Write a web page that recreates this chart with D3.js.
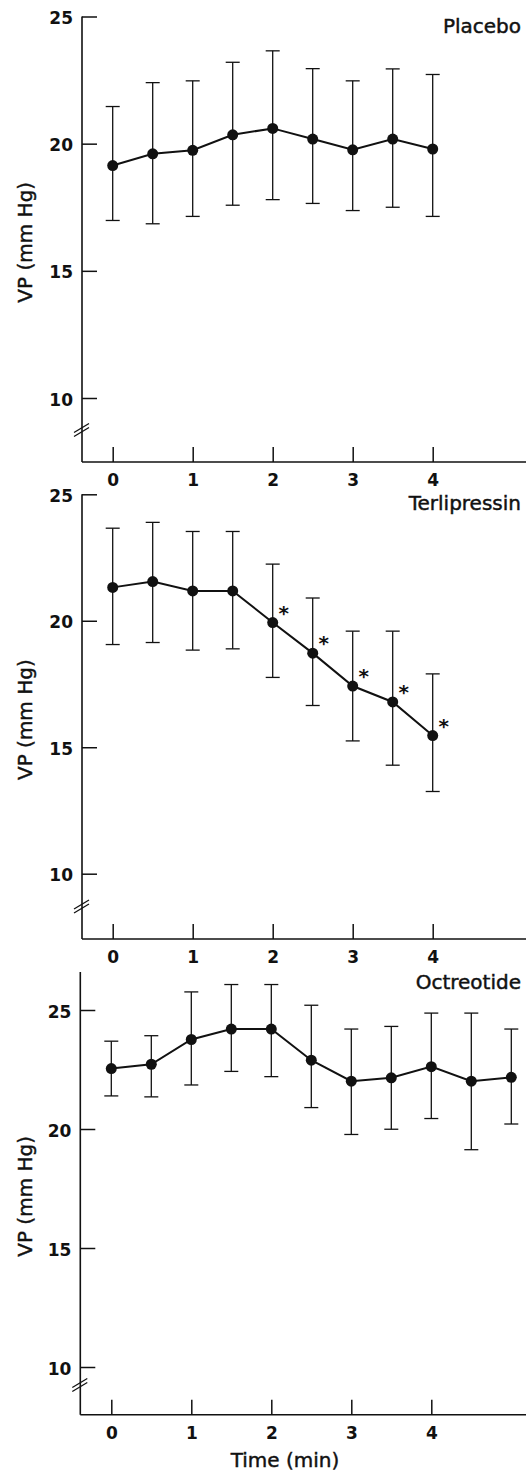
<!DOCTYPE html>
<html>
<head>
<meta charset="utf-8">
<script src="https://cdn.jsdelivr.net/npm/d3@7"></script>
<style>
  body { margin: 0; background: #fff; }
  svg { display: block; }
  .tick text { font-family: "DejaVu Sans", sans-serif; font-weight: bold; font-size: 17px; fill: #111; }
  .lbl { font-family: "DejaVu Sans", sans-serif; font-size: 20px; fill: #111; stroke: #111; stroke-width: 0.45px; }
</style>
</head>
<body>
<div id="chart"></div>
<script>
// time points (min)
var timesShort = [0, 0.5, 1, 1.5, 2, 2.5, 3, 3.5, 4];
var timesLong = [0, 0.5, 1, 1.5, 2, 2.5, 3, 3.5, 4, 4.5, 5];

// placebo: mean and error bar ends
var placeboMean = [19.14, 19.6, 19.74, 20.35, 20.6, 20.18, 19.76, 20.18, 19.79];
var placeboHi   = [21.46, 22.4, 22.47, 23.2, 23.65, 22.95, 22.47, 22.94, 22.72];
var placeboLo   = [16.98, 16.85, 17.14, 17.58, 17.8, 17.65, 17.37, 17.5, 17.14];

// terlipressin
var terliMean = [21.32, 21.55, 21.18, 21.18, 19.93, 18.72, 17.42, 16.79, 15.46];
var terliHi   = [23.66, 23.89, 23.53, 23.53, 22.24, 20.9, 19.59, 19.59, 17.9];
var terliLo   = [19.06, 19.14, 18.84, 18.89, 17.76, 16.65, 15.25, 14.29, 13.25];
var terliStar = [false, false, false, false, true, true, true, true, true];

// octreotide
var octMean = [22.54, 22.72, 23.76, 24.2, 24.2, 22.89, 22.01, 22.15, 22.62, 22.01, 22.17];
var octHi   = [23.69, 23.92, 25.76, 26.07, 26.07, 25.2, 24.2, 24.31, 24.87, 24.87, 24.2];
var octLo   = [21.39, 21.35, 21.85, 22.42, 22.2, 20.9, 19.77, 19.99, 20.44, 19.13, 20.21];

var yTicks = [10, 15, 20, 25];
var xTicks = [0, 1, 2, 3, 4];

var W = 526, H = 1471;
var svg = d3.select("#chart").append("svg").attr("width", W).attr("height", H);

var panels = [
  {name: "Placebo", t: timesShort, mean: placeboMean, hi: placeboHi, lo: placeboLo, star: null,
   left: 82, x0: 112.7, top: 16.5, y25: 16.5, y10: 398, axisY: 462, brk: 430, titleY: 33, xTitle: false},
  {name: "Terlipressin", t: timesShort, mean: terliMean, hi: terliHi, lo: terliLo, star: terliStar,
   left: 82, x0: 112.7, top: 494.3, y25: 494.3, y10: 873.7, axisY: 939, brk: 906.5, titleY: 510, xTitle: false},
  {name: "Octreotide", t: timesLong, mean: octMean, hi: octHi, lo: octLo, star: null,
   left: 80.3, x0: 111.3, top: 972, y25: 1010, y10: 1367, axisY: 1414.7, brk: 1385, titleY: 989, xTitle: true}
];

panels.forEach(function(p) {
  var x = d3.scaleLinear().domain([0, 4]).range([p.x0, p.x0 + 320]);
  var y = d3.scaleLinear().domain([10, 25]).range([p.y10, p.y25]);
  var g = svg.append("g");

  // y axis
  var ya = g.append("g").attr("transform", "translate(" + p.left + ",0)")
    .call(d3.axisLeft(y).tickValues(yTicks).tickSize(-15).tickPadding(9).tickFormat(d3.format("d")));
  ya.select(".domain").remove();
  ya.selectAll(".tick line").attr("stroke", "#111").attr("stroke-width", 1.5);
  ya.selectAll(".tick text").attr("dy", "0.42em");
  g.append("line").attr("x1", p.left).attr("x2", p.left).attr("y1", p.top).attr("y2", p.axisY)
    .attr("stroke", "#111").attr("stroke-width", 1.6);

  // axis break marks
  [-2, 2].forEach(function(o) {
    g.append("line").attr("x1", p.left - 8).attr("y1", p.brk + o + 4.5)
      .attr("x2", p.left + 7).attr("y2", p.brk + o - 4.5)
      .attr("stroke", "#111").attr("stroke-width", 1.3);
  });

  // x axis
  var xa = g.append("g").attr("transform", "translate(0," + p.axisY + ")")
    .call(d3.axisBottom(x).tickValues(xTicks).tickSize(-15).tickPadding(12).tickFormat(d3.format("d")));
  xa.select(".domain").remove();
  xa.selectAll(".tick line").attr("stroke", "#111").attr("stroke-width", 1.5);
  g.append("line").attr("x1", p.left).attr("x2", W).attr("y1", p.axisY).attr("y2", p.axisY)
    .attr("stroke", "#111").attr("stroke-width", 1.6);

  // y title
  g.append("text").attr("class", "lbl")
    .attr("transform", "translate(31.5," + ((p.top + p.axisY) / 2 + 3) + ") rotate(-90)")
    .attr("text-anchor", "middle").text("VP (mm Hg)");

  // panel title
  g.append("text").attr("class", "lbl").attr("x", 521).attr("y", p.titleY)
    .attr("text-anchor", "end").text(p.name);

  var data = p.t.map(function(t, i) {
    return {t: t, m: p.mean[i], hi: p.hi[i], lo: p.lo[i], s: p.star ? p.star[i] : false};
  });

  // error bars
  var eb = g.selectAll(".eb").data(data).enter().append("g");
  eb.append("line").attr("x1", function(d) { return x(d.t); }).attr("x2", function(d) { return x(d.t); })
    .attr("y1", function(d) { return y(d.hi); }).attr("y2", function(d) { return y(d.lo); })
    .attr("stroke", "#111").attr("stroke-width", 1.3);
  ["hi", "lo"].forEach(function(k) {
    eb.append("line").attr("x1", function(d) { return x(d.t) - 7; }).attr("x2", function(d) { return x(d.t) + 7; })
      .attr("y1", function(d) { return y(d[k]); }).attr("y2", function(d) { return y(d[k]); })
      .attr("stroke", "#111").attr("stroke-width", 1.3);
  });

  // mean line
  g.append("path").datum(data)
    .attr("d", d3.line().x(function(d) { return x(d.t); }).y(function(d) { return y(d.m); }))
    .attr("fill", "none").attr("stroke", "#111").attr("stroke-width", 2);

  g.selectAll(".pt").data(data).enter().append("circle")
    .attr("cx", function(d) { return x(d.t); }).attr("cy", function(d) { return y(d.m); })
    .attr("r", 5.5).attr("fill", "#111");

  // significance stars
  g.selectAll(".star").data(data.filter(function(d) { return d.s; })).enter().append("text")
    .attr("x", function(d) { return x(d.t) + 11; }).attr("y", function(d) { return y(d.m) - 3; })
    .attr("text-anchor", "middle").attr("font-family", "DejaVu Sans, sans-serif")
    .attr("font-weight", "bold").attr("font-size", 20).attr("fill", "#111").text("*");

  if (p.xTitle) {
    g.append("text").attr("class", "lbl").attr("x", 285).attr("y", 1467)
      .attr("text-anchor", "middle").attr("font-size", 19).text("Time (min)");
  }
});
</script>
</body>
</html>
